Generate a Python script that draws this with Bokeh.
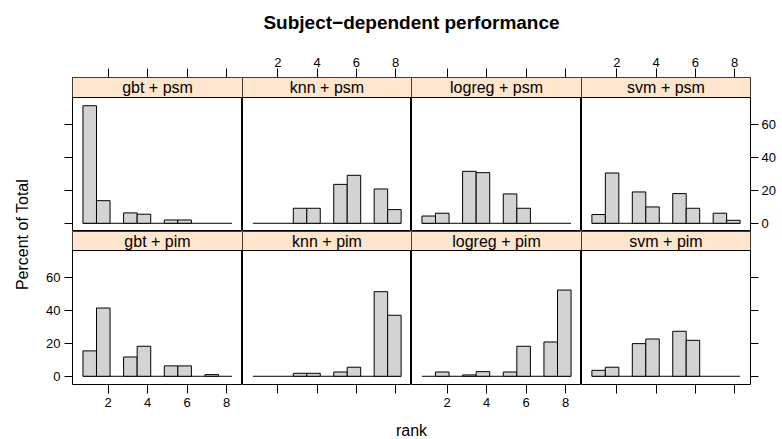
import numpy as np
from bokeh.plotting import figure
from bokeh.models import (Range1d, FixedTicker, LinearAxis, BoxAnnotation, Span,
                          Label, ColumnDataSource)
from bokeh.layouts import row, column
from bokeh.embed import file_html
from bokeh.resources import INLINE

# ---------------- data ----------------
title_text = "Subject\u2212dependent performance"
x_label = "rank"
y_label = "Percent of Total"
ranks = [1, 2, 3, 4, 5, 6, 7, 8]
n_bins = 11
x_ticks = [2, 4, 6, 8]
y_ticks = [0, 20, 40, 60]

top_names = ["gbt + psm", "knn + psm", "logreg + psm", "svm + psm"]
bottom_names = ["gbt + pim", "knn + pim", "logreg + pim", "svm + pim"]

# percent of total per rank (1..8)
gbt_psm = [71.3, 13.7, 6.3, 5.5, 2.0, 2.0, 0.0, 0.0]
knn_psm = [0.0, 0.0, 9.1, 9.1, 23.6, 29.1, 20.8, 8.3]
logreg_psm = [4.4, 6.1, 31.5, 30.7, 17.8, 9.1, 0.0, 0.0]
svm_psm = [5.3, 30.5, 19.0, 9.9, 18.0, 9.1, 6.1, 1.8]
gbt_pim = [15.4, 41.4, 11.7, 18.2, 6.3, 6.3, 1.0, 0.0]
knn_pim = [0.0, 0.0, 1.8, 1.8, 2.6, 5.5, 51.3, 37.0]
logreg_pim = [0.0, 2.6, 0.8, 2.8, 2.6, 18.2, 20.8, 52.3]
svm_pim = [3.6, 5.5, 19.8, 22.6, 27.3, 21.8, 0.0, 0.0]

top_values = [gbt_psm, knn_psm, logreg_psm, svm_psm]
bottom_values = [gbt_pim, knn_pim, logreg_pim, svm_pim]

# ---------------- scales (lattice-like) ----------------
r_lo, r_hi = min(ranks), max(ranks)
ext = 0.04 * (r_hi - r_lo)
breaks = np.linspace(r_lo - ext, r_hi + ext, n_bins + 1)
bw = breaks[-1] - breaks[0]
x_lo, x_hi = breaks[0] - 0.07 * bw, breaks[-1] + 0.07 * bw
M = max(max(v) for v in top_values + bottom_values)
y_lo, y_hi = -0.07 * M, 1.07 * M

# ---------------- layout (pixels) ----------------
FONT = "Liberation Sans"
frame_w = [170, 169, 170, 169]
panel_px = 134
strip_px = [20, 19]
ylab_w = 30
left_border = 42
right_border = 32
top_border = 28
bottom_border = 31
title_h = 49
xlab_h = 24
total_w = ylab_w + left_border + sum(frame_w) + right_border
TICK_FS = "13px"


def add_axis(p, side, ticks, show_labels, tick_out, standoff):
    ax = LinearAxis(ticker=FixedTicker(ticks=ticks))
    ax.axis_line_color = None
    ax.major_tick_in = 0
    ax.major_tick_out = tick_out
    ax.major_tick_line_color = "black"
    ax.minor_tick_line_color = None
    ax.major_label_text_font = FONT
    ax.major_label_text_font_size = TICK_FS
    ax.major_label_text_color = "black"
    ax.major_label_standoff = standoff
    if not show_labels:
        ax.major_label_overrides = {float(t): "" for t in ticks}
    p.add_layout(ax, side)


def make_panel(name, vals, ri, ci):
    fw = frame_w[ci]
    sp = strip_px[ri]
    fh = panel_px + sp
    lb = left_border if ci == 0 else 0
    rb = right_border if ci == 3 else 0
    tb = top_border if ri == 0 else 0
    bb = bottom_border if ri == 1 else 0
    y_top = y_hi + (y_hi - y_lo) * sp / panel_px
    p = figure(width=fw + lb + rb, height=fh + tb + bb,
               x_range=Range1d(x_lo, x_hi), y_range=Range1d(y_lo, y_top),
               x_axis_location=None, y_axis_location=None,
               output_backend="svg", toolbar_location=None,
               min_border_left=lb, min_border_right=rb,
               min_border_top=tb, min_border_bottom=bb)
    p.grid.grid_line_color = None
    p.outline_line_color = "black"
    p.outline_line_width = 1
    p.outline_line_alpha = 1
    p.background_fill_color = "white"
    p.border_fill_color = "white"

    # strip
    p.add_layout(BoxAnnotation(bottom=y_hi, fill_color="#FFE5CC", fill_alpha=1,
                               line_color=None, level="underlay"))
    p.add_layout(Span(location=y_hi, dimension="width", line_color="black",
                      line_width=1))
    p.add_layout(Label(x=(x_lo + x_hi) / 2, y=(y_hi + y_top) / 2, text=name,
                       text_align="center", text_baseline="middle",
                       text_font=FONT, text_font_size="16px", text_color="black"))

    # histogram bars
    idx = np.digitize(ranks, breaks) - 1
    v = np.array(vals, dtype=float)
    keep = v > 0
    src = ColumnDataSource(dict(left=breaks[idx][keep], right=breaks[idx + 1][keep],
                                top=v[keep], bottom=np.zeros(keep.sum())))
    p.segment(x0=[breaks[0]], y0=[0], x1=[breaks[-1]], y1=[0],
              line_color="black", line_width=1)
    p.quad(left="left", right="right", top="top", bottom="bottom", source=src,
           fill_color="#D3D3D3", line_color="black", line_width=1)

    # axes (lattice alternating)
    if ri == 0:
        add_axis(p, "above", x_ticks, ci in (1, 3), 9, 2)
    else:
        add_axis(p, "below", x_ticks, ci in (0, 2), 9, 4)
    if ci == 0:
        add_axis(p, "left", y_ticks, ri == 1, 8, 4)
    if ci == 3:
        add_axis(p, "right", y_ticks, ri == 0, 8, 3)
    return p


def text_fig(w, h, text, fx, fy, size, bold=False, angle=0.0):
    f = figure(width=w, height=h, x_range=Range1d(0, 1), y_range=Range1d(0, 1),
               x_axis_location=None, y_axis_location=None,
               output_backend="svg", toolbar_location=None,
               min_border=0, min_border_left=0, min_border_right=0,
               min_border_top=0, min_border_bottom=0)
    f.grid.grid_line_color = None
    f.outline_line_color = None
    f.add_layout(Label(x=fx, y=fy, text=text, text_align="center",
                       text_baseline="middle", text_font=FONT,
                       text_font_size=size, angle=angle,
                       text_font_style="bold" if bold else "normal",
                       text_color="black"))
    return f


top_row = row([make_panel(n, v, 0, i) for i, (n, v) in enumerate(zip(top_names, top_values))],
              spacing=0)
bottom_row = row([make_panel(n, v, 1, i) for i, (n, v) in enumerate(zip(bottom_names, bottom_values))],
                 spacing=0)
panels = column([top_row, bottom_row], spacing=0)

mid_top = title_h
mid_h = (top_border + panel_px + strip_px[0]) + (panel_px + strip_px[1] + bottom_border)
panel_cx = ylab_w + left_border + sum(frame_w) / 2

title_f = text_fig(total_w, title_h, title_text, panel_cx / total_w, 1 - 22 / title_h,
                   "19px", bold=True)
ylab_f = text_fig(ylab_w, mid_h, y_label, 22 / ylab_w,
                  1 - (234 - mid_top) / mid_h, "16px", angle=np.pi / 2)
xlab_f = text_fig(total_w, xlab_h, x_label, panel_cx / total_w, 1 - 15 / xlab_h, "16px")

layout = column([title_f, row([ylab_f, panels], spacing=0), xlab_f], spacing=0)

open("out.html", "w").write(file_html(layout, INLINE))
